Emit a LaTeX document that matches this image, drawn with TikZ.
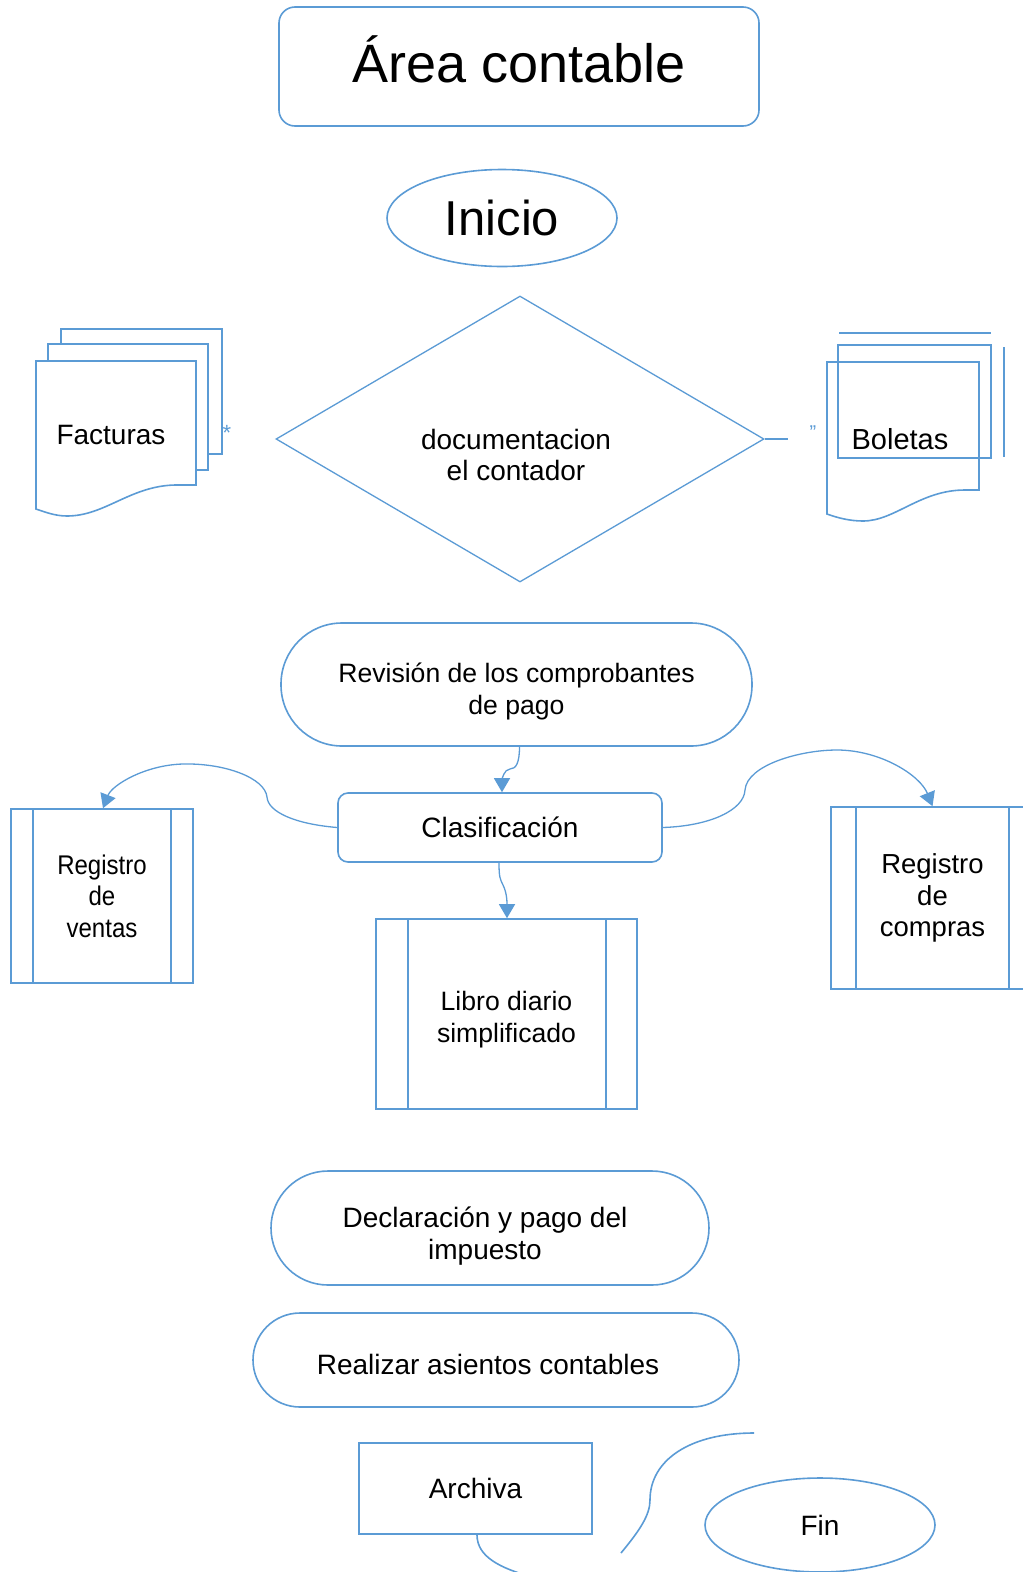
\documentclass[tikz,border=0pt]{standalone}
\usepackage{fontspec}
\setmainfont{Liberation Sans}
\newfontfamily\narrowfont[FakeStretch=0.89]{Liberation Sans}
\usepackage{xcolor}
\usetikzlibrary{arrows.meta,shapes.geometric,positioning}
\definecolor{lblue}{RGB}{91,155,213}
\newcommand{\fsz}[2]{\fontsize{#1}{#2}\selectfont}
\newcommand{\dropln}[1]{\rule{0pt}{#1}}

\begin{document}
\begin{tikzpicture}[
    x=1pt, y=-1pt,
    blk/.style={draw=lblue, line width=1.6pt, fill=white, align=center, inner sep=0, font=\fsz{28}{32}},
    rbox/.style={blk, rectangle, rounded corners=#1},
    proc/.style={blk, rectangle},
    oval/.style={blk, ellipse},
    dec/.style={blk, diamond, line width=1.3pt},
    txt/.style={align=center, inner sep=0, font=\fsz{28}{31.5}},
    bluemark/.style={text=lblue, inner sep=0},
    ln/.style={draw=lblue, line width=1.6pt},
    conn/.style={draw=lblue, line width=1.3pt, -{Triangle[width=16pt,length=14pt]}}]
\useasboundingbox (0,0) rectangle (1023,1572);
\clip (0,0) rectangle (1023,1572);

\node[rbox=16, minimum width=480, minimum height=119, font=\fsz{54}{60}, text depth=14pt] (titulo) at (519,66.5) {Área contable};
\node[oval, minimum width=230, minimum height=97, font=\fsz{49}{52}] (inicio) at (502,218) {Inicio};

\node[dec, minimum width=488, minimum height=286] (doc) at (520,439) {};
\node[txt] (doctxt) at (516,455) {documentacion\\el contador};
\draw[ln, line width=1.3pt] (doc.east) -- ++(23,0) coordinate (docend);

\draw[ln, fill=white] (61,329) rectangle (222,454);
\draw[ln, fill=white] (48,344) rectangle (208,470);
\draw[ln, fill=white] (36,361) -- (196,361) -- (196,485) -- (175,485)
    .. controls (130,486) and (105,516) .. (67,516)
    .. controls (55,516) and (45,512) .. (36,509) -- cycle;
\node[txt] (facturas) at (111,435) {Facturas};
\node[bluemark, font=\fsz{22}{22}] (ast) at (227,433) {*};

\draw[ln] (839,333) -- (991,333);
\draw[ln] (838,345) rectangle (991,458);
\draw[ln] (1004,347) -- (1004,457);
\draw[ln] (827,362) -- (979,362) -- (979,490) -- (965,490)
    .. controls (920,490) and (895,521) .. (863,521)
    .. controls (850,521) and (838,518) .. (827,514) -- cycle;
\node[txt, font=\fsz{29}{32}] (boletas) at (900,439) {Boletas};
\node[bluemark, font=\fsz{20}{20}] (comillas) at (813,433) {\symbol{34}};

\node[rbox=61, minimum width=471, minimum height=123, font=\fsz{26.6}{32}] (revision) at (516.5,684.5) {\dropln{34pt}Revisión de los comprobantes\\de pago};
\node[rbox=10, minimum width=324, minimum height=69] (clasif) at (500,827.5) {Clasificación};

\node[proc, minimum width=182, minimum height=174, font=\narrowfont\fsz{27}{31.5}] (ventas) at (102,896) {Registro\\de\\ventas};
\draw[ln] ([xshift=23]ventas.north west) -- ([xshift=23]ventas.south west);
\draw[ln] ([xshift=-23]ventas.north east) -- ([xshift=-23]ventas.south east);

\node[proc, minimum width=203, minimum height=182, font=\fsz{27.5}{31.5}] (compras) at (932.5,898) {Registro\\de\\compras};
\draw[ln] ([xshift=26]compras.north west) -- ([xshift=26]compras.south west);
\draw[ln] ([xshift=-26]compras.north east) -- ([xshift=-26]compras.south east);

\node[proc, minimum width=261, minimum height=190, font=\fsz{26.6}{32}] (libro) at (506.5,1014) {\dropln{30pt}Libro diario\\simplificado};
\draw[ln] ([xshift=33]libro.north west) -- ([xshift=33]libro.south west);
\draw[ln] ([xshift=-32]libro.north east) -- ([xshift=-32]libro.south east);

\draw[conn] ([xshift=3]revision.south) .. controls +(0,16) and +(6,0) .. (510,769)
    .. controls +(-6,0) and +(0,-12) .. ([xshift=2]clasif.north);
\draw[conn] ([xshift=-1]clasif.south) .. controls +(0,14) and +(-3,-6) .. (503,885)
    .. controls +(4,8) and +(0,-16) .. ([xshift=0.5]libro.north);
\draw[conn] (clasif.west) .. controls (295,824) and (268,812) .. (267,797)
    .. controls (265,778) and (225,763) .. (183,764)
    .. controls (145,765) and (112,785) .. ([xshift=1]ventas.north);
\draw[conn] (clasif.east) .. controls (710,826) and (744,810) .. (745,790)
    .. controls (747,765) and (800,750) .. (837,750)
    .. controls (880,750) and (920,775) .. (compras.north);

\node[rbox=57, minimum width=438, minimum height=114] (declar) at (490,1228) {\dropln{36pt}Declaración y pago del\hspace*{10pt}\\impuesto\hspace*{10pt}};
\node[rbox=47, minimum width=486, minimum height=94, text height=30pt] (asientos) at (496,1360) {Realizar asientos contables\hspace*{16pt}};
\node[proc, minimum width=233, minimum height=91] (archiva) at (475.5,1488.5) {Archiva};
\node[oval, minimum width=230, minimum height=94] (fin) at (820,1525) {Fin};

\coordinate (finA) at (532,1577);
\coordinate (finB) at (621,1553);
\coordinate (finC) at (754,1433);
\draw[ln] ([xshift=1.5]archiva.south) .. controls +(0,22) and (500,1568) .. (finA);
\draw[ln] (finB) .. controls (640,1530) and (650,1515) .. (650,1500)
    .. controls (650,1460) and (690,1433) .. (finC);

\end{tikzpicture}
\end{document}
